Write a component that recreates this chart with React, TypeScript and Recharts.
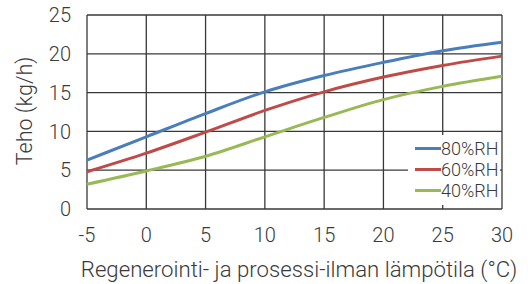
import { CartesianGrid, Line, LineChart, XAxis, YAxis } from 'recharts'

const temps = [-5, 0, 5, 10, 15, 20, 25, 30]
const rh80 = [6.3, 9.3, 12.3, 15.1, 17.2, 18.9, 20.4, 21.5]
const rh60 = [4.8, 7.2, 9.9, 12.7, 15.1, 17.0, 18.5, 19.7]
const rh40 = [3.2, 4.9, 6.8, 9.3, 11.8, 14.1, 15.8, 17.1]
const xTicks = [-5, 0, 5, 10, 15, 20, 25, 30]
const yTicks = [0, 5, 10, 15, 20, 25]

const data = temps.map((t, i) => ({
	t,
	rh80: rh80[i],
	rh60: rh60[i],
	rh40: rh40[i],
}))

const series = [
	{ key: 'rh80', name: '80%RH', color: '#4a7ebb' },
	{ key: 'rh60', name: '60%RH', color: '#be4b48' },
	{ key: 'rh40', name: '40%RH', color: '#98b954' },
]

const font = 'Roboto, sans-serif'
const weight = 300
const textColor = '#3a3a3a'

const LegendBox = () => (
	<div
		style={{
			position: 'absolute',
			left: 408,
			top: 135,
			background: '#fff',
			width: 92,
			height: 70,
			paddingTop: 3,
			boxSizing: 'border-box',
		}}
	>
		{series.map(s => (
			<div
				key={s.key}
				style={{ display: 'flex', alignItems: 'center', height: 21 }}
			>
				<div
					style={{
						width: 26,
						height: 3,
						marginLeft: 7,
						background: s.color,
					}}
				/>
				<span
					style={{
						fontFamily: font,
						fontWeight: weight,
						fontSize: 18,
						color: textColor,
						lineHeight: '21px',
					}}
				>
					{s.name}
				</span>
			</div>
		))}
	</div>
)

export default function App() {
	return (
		<div
			style={{
				position: 'absolute',
				left: 0,
				top: 0,
				width: 528,
				height: 284,
				background: '#fff',
			}}
		>
			<LineChart
				width={528}
				height={284}
				data={data}
				margin={{ top: 15, right: 26, left: 0, bottom: 0 }}
			>
				<CartesianGrid stroke='#383838' strokeWidth={1.3} />
				<XAxis
					dataKey='t'
					type='number'
					domain={[-5, 30]}
					ticks={xTicks}
					axisLine={false}
					tickLine={false}
					tickSize={0}
					tickMargin={19}
					tick={{ fontFamily: font, fontWeight: weight, fontSize: 20, fill: textColor }}
					height={75}
				/>
				<YAxis
					type='number'
					domain={[0, 25]}
					ticks={yTicks}
					axisLine={false}
					tickLine={false}
					tickSize={0}
					tickMargin={16}
					width={87}
					tick={{ fontFamily: font, fontWeight: weight, fontSize: 20, fill: textColor }}
				/>
				{series.map(s => (
					<Line
						key={s.key}
						type='monotone'
						dataKey={s.key}
						name={s.name}
						stroke={s.color}
						strokeWidth={3}
						dot={false}
						isAnimationActive={false}
					/>
				))}
				<text
					x={299}
					y={277}
					textAnchor='middle'
					fontFamily={font}
					fontWeight={weight}
					fontSize={22.2}
					fill={textColor}
				>
					Regenerointi- ja prosessi-ilman lämpötila (°C)
				</text>
				<text
					transform='translate(32,111) rotate(-90)'
					textAnchor='middle'
					fontFamily={font}
					fontWeight={weight}
					fontSize={21.5}
					fill={textColor}
				>
					Teho (kg/h)
				</text>
			</LineChart>
			<LegendBox />
		</div>
	)
}
